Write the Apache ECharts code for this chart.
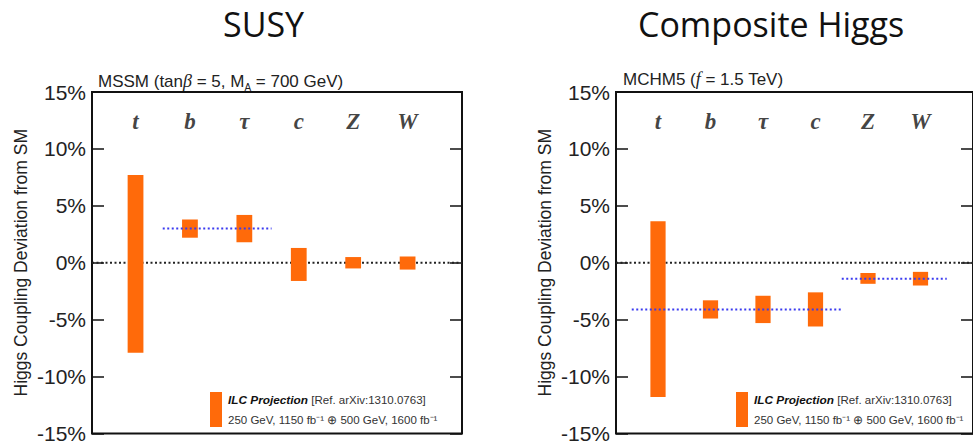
<!DOCTYPE html>
<html>
<head>
<meta charset="utf-8">
<script src="https://cdn.jsdelivr.net/npm/echarts@6/dist/echarts.min.js"></script>
<style>
  html, body { margin: 0; padding: 0; background: #fff; }
  #main { width: 973px; height: 444px; }
</style>
</head>
<body>
<div id="main"></div>
<script>
// couplings shown on each panel
var categories = ['t', 'b', 'τ', 'c', 'Z', 'W'];
var catPos = [1, 2, 3, 4, 5, 6];

// ILC projection bands, MSSM panel (percent)
var mssmLow  = [-7.9, 2.2, 1.8, -1.6, -0.5, -0.6];
var mssmHigh = [ 7.7, 3.8, 4.2,  1.3,  0.5,  0.55];
// model prediction (blue dotted), MSSM
var mssmPred = [[1.5, 3.0], [3.5, 3.0]];

// ILC projection bands, MCHM5 panel (percent)
var mchmLow  = [-11.8, -4.9, -5.3, -5.6, -1.85, -2.0];
var mchmHigh = [  3.65, -3.3, -2.9, -2.6, -0.9, -0.8];
// model predictions, MCHM5
var mchmPredFermion = [[0.5, -4.1], [4.5, -4.1]];
var mchmPredBoson   = [[4.5, -1.4], [6.5, -1.4]];

var smLine = [[0.2, 0], [7.0, 0]];
var yTicks = { min: -15, max: 15, step: 5 };
var labelY = 12.4;

var ORANGE = '#ff6a0a';
var BLUE = '#3b3bf0';
var SANS = '"Liberation Sans", Arial, Helvetica, sans-serif';

function bands(low, high) {
    return catPos.map(function (x, i) { return [x, low[i], high[i]]; });
}
function labelPts() {
    return catPos.map(function (x) { return [x, labelY]; });
}

function renderBand(params, api) {
    var x = api.value(0);
    var top = api.coord([x, api.value(2)]);
    var bot = api.coord([x, api.value(1)]);
    var w = api.size([0.29, 0])[0];
    return {
        type: 'rect',
        shape: { x: top[0] - w / 2, y: top[1], width: w, height: bot[1] - top[1] },
        style: { fill: ORANGE }
    };
}

function xAxisFor(g) {
    return { type: 'value', gridIndex: g, min: 0.2, max: 7.0, show: false };
}
function yAxisFor(g, side, withLabels) {
    return {
        type: 'value', gridIndex: g, position: side,
        min: yTicks.min, max: yTicks.max, interval: yTicks.step,
        axisLine: { show: false },
        splitLine: { show: false },
        axisTick: { show: true, inside: true, length: 12, lineStyle: { color: '#111', width: 1.5 } },
        axisLabel: withLabels ? {
            show: true, formatter: '{value}%', margin: 6,
            fontFamily: SANS, fontSize: 21, color: '#222'
        } : { show: false },
        name: withLabels ? 'Higgs Coupling Deviation from SM' : '',
        nameLocation: 'middle', nameRotate: 90, nameGap: 62,
        nameTextStyle: { fontFamily: SANS, fontSize: 17.5, color: '#222' }
    };
}

function panelSeries(g, low, high, preds) {
    var out = [{
        name: 'ILC Projection', type: 'custom',
        xAxisIndex: g, yAxisIndex: g * 2,
        renderItem: renderBand,
        itemStyle: { color: ORANGE },
        encode: { x: 0, y: [1, 2] },
        data: bands(low, high),
        z: 3
    }, {
        type: 'line', xAxisIndex: g, yAxisIndex: g * 2,
        data: smLine, symbol: 'none', silent: true,
        lineStyle: { color: '#222', width: 2, type: [2, 2.5] },
        z: 2
    }, {
        type: 'scatter', xAxisIndex: g, yAxisIndex: g * 2,
        data: labelPts(), symbolSize: 1, silent: true,
        itemStyle: { color: 'rgba(0,0,0,0)' },
        label: {
            show: true, position: 'inside',
            formatter: function (p) { return categories[p.dataIndex]; },
            fontFamily: '"Liberation Serif", "Times New Roman", serif',
            fontStyle: 'italic', fontWeight: 'bold', fontSize: 23, color: '#111'
        }
    }];
    preds.forEach(function (d) {
        out.push({
            type: 'line', xAxisIndex: g, yAxisIndex: g * 2,
            data: d, symbol: 'none', silent: true,
            lineStyle: { color: BLUE, width: 2, type: [2, 2.5] },
            z: 4
        });
    });
    return out;
}

function legendAt(left) {
    return {
        left: left, top: 387, orient: 'vertical',
        data: ['ILC Projection'], icon: 'rect',
        itemWidth: 12, itemHeight: 35, selectedMode: false,
        formatter: function () {
            return '{b|ILC Projection} {n|[Ref. arXiv:1310.0763]}\n{n|250 GeV, 1150 fb⁻¹ ⊕ 500 GeV, 1600 fb⁻¹}';
        },
        textStyle: {
            padding: [0, 0, 0, 1],
            rich: {
                b: { fontFamily: SANS, fontSize: 11.8, fontWeight: 'bold', fontStyle: 'italic', color: '#111', lineHeight: 20 },
                n: { fontFamily: SANS, fontSize: 11.5, color: '#333', lineHeight: 20 }
            }
        }
    };
}

var subRich = {
    n: { fontFamily: SANS, fontSize: 17, fontWeight: 'normal', color: '#222' },
    i: { fontFamily: '"Liberation Serif", serif', fontStyle: 'italic', fontWeight: 'normal', fontSize: 18, color: '#222' },
    s: { fontFamily: SANS, fontSize: 10, fontWeight: 'normal', color: '#222', padding: [12, 0, 0, 0] }
};

var option = {
    backgroundColor: '#fff',
    animation: false,
    title: [
        { text: '{n|MSSM (tan}{i|β}{n| = 5, M}{s|A}{n| = 700 GeV)}', left: 93, top: 65,
          textStyle: { fontWeight: 'normal', rich: subRich } },
        { text: '{n|MCHM5 (}{i|f}{n| = 1.5 TeV)}', left: 618, top: 65,
          textStyle: { fontWeight: 'normal', rich: subRich } }
    ],
    graphic: [
        { type: 'text', left: 223, top: 7,
          style: { text: 'SUSY', font: '34px "Open Sans", sans-serif', fill: '#111' } },
        { type: 'text', left: 638, top: 7,
          style: { text: 'Composite Higgs', font: '34px "Open Sans", sans-serif', fill: '#111' } }
    ],
    legend: [legendAt(205), legendAt(731)],
    grid: [
        { left: 92, top: 92, width: 370, height: 343, show: true, borderColor: '#111', borderWidth: 2, backgroundColor: 'transparent' },
        { left: 616, top: 92, width: 370, height: 343, show: true, borderColor: '#111', borderWidth: 2, backgroundColor: 'transparent' }
    ],
    xAxis: [xAxisFor(0), xAxisFor(1)],
    yAxis: [yAxisFor(0, 'left', true), yAxisFor(0, 'right', false),
            yAxisFor(1, 'left', true), yAxisFor(1, 'right', false)],
    series: [].concat(
        panelSeries(0, mssmLow, mssmHigh, [mssmPred]),
        panelSeries(1, mchmLow, mchmHigh, [mchmPredFermion, mchmPredBoson])
    )
};

var chart = echarts.init(document.getElementById('main'), null, { renderer: 'svg' });
chart.setOption(option);
</script>
</body>
</html>
